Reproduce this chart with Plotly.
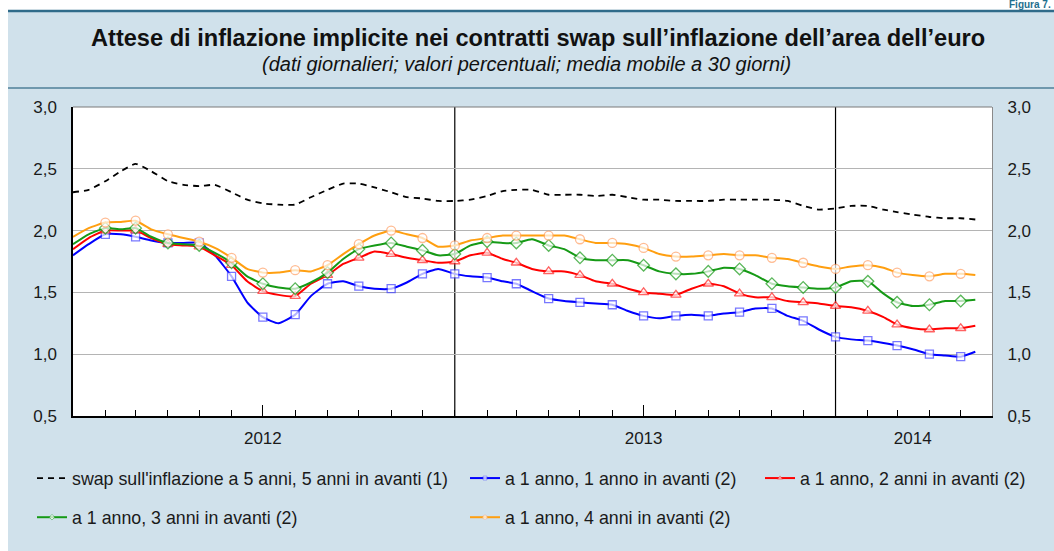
import plotly.graph_objects as go

# ---------------- data ----------------
dates = [
    "2012-01-01", "2012-01-16", "2012-02-01", "2012-02-16", "2012-03-01", "2012-03-16",
    "2012-04-01", "2012-04-16", "2012-05-01", "2012-05-16", "2012-06-01", "2012-06-16",
    "2012-07-01", "2012-07-16", "2012-08-01", "2012-08-16", "2012-09-01", "2012-09-16",
    "2012-10-01", "2012-10-16", "2012-11-01", "2012-11-16", "2012-12-01", "2012-12-16",
    "2013-01-01", "2013-01-16", "2013-02-01", "2013-02-16", "2013-03-01", "2013-03-16",
    "2013-04-01", "2013-04-16", "2013-05-01", "2013-05-16", "2013-06-01", "2013-06-16",
    "2013-07-01", "2013-07-16", "2013-08-01", "2013-08-16", "2013-09-01", "2013-09-16",
    "2013-10-01", "2013-10-16", "2013-11-01", "2013-11-16", "2013-12-01", "2013-12-16",
    "2014-01-01", "2014-01-16", "2014-02-01", "2014-02-16", "2014-03-01", "2014-03-16",
    "2014-04-01", "2014-04-16", "2014-05-01", "2014-05-15",
]

swap_5y5y = [
    2.31, 2.33, 2.40, 2.48, 2.54, 2.48, 2.40, 2.37, 2.36, 2.37, 2.31, 2.25,
    2.22, 2.21, 2.21, 2.27, 2.33, 2.38, 2.38, 2.35, 2.31, 2.27, 2.26, 2.24,
    2.24, 2.25, 2.28, 2.32, 2.33, 2.33, 2.29, 2.29, 2.29, 2.28, 2.29, 2.27,
    2.25, 2.25, 2.24, 2.24, 2.24, 2.25, 2.25, 2.25, 2.25, 2.24, 2.20, 2.17,
    2.18, 2.20, 2.20, 2.17, 2.15, 2.13, 2.11, 2.10, 2.10, 2.09,
]

fwd_1y1y = [
    1.80, 1.89, 1.97, 1.97, 1.95, 1.92, 1.90, 1.90, 1.90, 1.80, 1.63, 1.42,
    1.30, 1.25, 1.32, 1.47, 1.57, 1.59, 1.55, 1.53, 1.53, 1.58, 1.65, 1.69,
    1.65, 1.63, 1.62, 1.59, 1.57, 1.51, 1.45, 1.43, 1.42, 1.41, 1.40, 1.35,
    1.31, 1.29, 1.31, 1.32, 1.31, 1.33, 1.34, 1.37, 1.37, 1.31, 1.27, 1.20,
    1.14, 1.12, 1.11, 1.09, 1.07, 1.04, 1.00, 0.99, 0.98, 1.02,
]

fwd_1y2y = [
    1.85, 1.94, 2.00, 2.00, 2.00, 1.94, 1.89, 1.88, 1.87, 1.80, 1.72, 1.59,
    1.51, 1.48, 1.47, 1.57, 1.64, 1.73, 1.78, 1.83, 1.81, 1.78, 1.76, 1.74,
    1.75, 1.80, 1.82, 1.77, 1.74, 1.69, 1.67, 1.67, 1.64, 1.59, 1.57, 1.53,
    1.50, 1.49, 1.48, 1.53, 1.57, 1.55, 1.49, 1.46, 1.46, 1.43, 1.42, 1.41,
    1.39, 1.38, 1.35, 1.30, 1.24, 1.21, 1.20, 1.21, 1.21, 1.23,
]

fwd_1y3y = [
    1.89, 1.97, 2.02, 2.01, 2.02, 1.95, 1.90, 1.89, 1.88, 1.82, 1.74, 1.63,
    1.57, 1.54, 1.53, 1.58, 1.66, 1.77, 1.85, 1.88, 1.90, 1.87, 1.84, 1.80,
    1.81, 1.88, 1.91, 1.90, 1.90, 1.93, 1.88, 1.85, 1.78, 1.76, 1.76, 1.76,
    1.72, 1.67, 1.65, 1.65, 1.67, 1.70, 1.69, 1.64, 1.57, 1.55, 1.54, 1.53,
    1.54, 1.59, 1.59, 1.49, 1.42, 1.39, 1.40, 1.43, 1.43, 1.44,
]

fwd_1y4y = [
    1.95, 2.02, 2.065, 2.07, 2.08, 2.01, 1.97, 1.94, 1.91, 1.86, 1.78, 1.69,
    1.66, 1.66, 1.68, 1.67, 1.72, 1.81, 1.89, 1.96, 2.00, 1.97, 1.94, 1.87,
    1.88, 1.92, 1.94, 1.96, 1.96, 1.96, 1.96, 1.96, 1.93, 1.90, 1.90, 1.89,
    1.86, 1.81, 1.79, 1.79, 1.80, 1.81, 1.80, 1.80, 1.78, 1.77, 1.74, 1.71,
    1.69, 1.71, 1.72, 1.70, 1.66, 1.64, 1.63, 1.65, 1.65, 1.64,
]

series_names = [
    "swap sull'inflazione a 5 anni, 5 anni in avanti (1)",
    "a 1 anno, 1 anno in avanti (2)",
    "a 1 anno, 2 anni in avanti (2)",
    "a 1 anno, 3 anni in avanti (2)",
    "a 1 anno, 4 anni in avanti (2)",
]

year_labels = ["2012", "2013", "2014"]
year_label_pos = ["2012-07-01", "2013-07-01", "2014-03-16"]
year_starts = ["2013-01-01", "2014-01-01"]
midyear_ticks = ["2012-07-01", "2013-07-01"]
y_ticks = [0.5, 1.0, 1.5, 2.0, 2.5, 3.0]

title = "Attese di inflazione implicite nei contratti swap sull’inflazione dell’area dell’euro"
subtitle = "(dati giornalieri; valori percentuali; media mobile a 30 giorni)"
figure_tag = "Figura 7."

# ---------------- layout geometry / style ----------------
FIG_W, FIG_H = 1054, 551
L, R, T, B = 73, 992, 107, 416
PW, PH = R - L, B - T


def fx(px):
    return (px - L) / PW


def fy(py):
    return (B - py) / PH


FONT = "Liberation Sans, Arial, Helvetica, sans-serif"
TXT = "#1a1a1a"
PANEL = "#D0E1EB"
TEAL = "#2F6B8A"

is_marker = [d.endswith("-01") and i > 0 for i, d in enumerate(dates)]


def marker_style(symbol, edge, size):
    return dict(
        symbol=symbol,
        color="white",
        size=[size if m else 0 for m in is_marker],
        line=dict(color=edge, width=[1.3 if m else 0 for m in is_marker]),
    )


fig = go.Figure()

fig.add_trace(go.Scatter(
    x=dates, y=swap_5y5y, mode="lines", name=series_names[0],
    line=dict(color="black", width=1.8, dash="6px,5px", shape="spline", smoothing=0.5),
    legend="legend", legendgroup="g1",
))
fig.add_trace(go.Scatter(
    x=dates, y=fwd_1y1y, mode="lines+markers", name=series_names[1],
    line=dict(color="#0000FF", width=2, shape="spline", smoothing=0.5),
    marker=marker_style("square", "#4040FF", 8),
    legend="legend2", legendgroup="g2",
))
fig.add_trace(go.Scatter(
    x=dates, y=fwd_1y2y, mode="lines+markers", name=series_names[2],
    line=dict(color="#FF0000", width=2, shape="spline", smoothing=0.5),
    marker=marker_style("triangle-up", "#FF2020", 9),
    legend="legend3", legendgroup="g3",
))
fig.add_trace(go.Scatter(
    x=dates, y=fwd_1y3y, mode="lines+markers", name=series_names[3],
    line=dict(color="#169A16", width=2, shape="spline", smoothing=0.5),
    marker=marker_style("diamond", "#169A16", 9),
    legend="legend", legendgroup="g4",
))
fig.add_trace(go.Scatter(
    x=dates, y=fwd_1y4y, mode="lines+markers", name=series_names[4],
    line=dict(color="#FF9F10", width=2, shape="spline", smoothing=0.5),
    marker=marker_style("circle", "#FFA066", 9),
    legend="legend2", legendgroup="g5",
))

# helper traces to activate the overlay axes
fig.add_trace(go.Scatter(x=[], y=[], xaxis="x2", showlegend=False, hoverinfo="skip"))
fig.add_trace(go.Scatter(x=[], y=[], xaxis="x3", showlegend=False, hoverinfo="skip"))
fig.add_trace(go.Scatter(x=[], y=[], yaxis="y2", showlegend=False, hoverinfo="skip"))

X_RANGE = ["2012-01-01", "2014-05-31"]

legend_common = dict(
    xanchor="left", yanchor="top", orientation="v",
    traceorder="grouped", tracegroupgap=13,
    bgcolor="rgba(0,0,0,0)", borderwidth=0,
    font=dict(family=FONT, size=17.8, color=TXT),
    itemwidth=30,
)

fig.update_layout(
    width=FIG_W, height=FIG_H, autosize=False,
    margin=dict(l=L, r=FIG_W - R, t=T, b=FIG_H - B, pad=0, autoexpand=False),
    paper_bgcolor=PANEL, plot_bgcolor="white",
    separators=",.",
    font=dict(family=FONT, size=16, color=TXT),
    showlegend=True,
    xaxis=dict(
        type="date", range=X_RANGE, tickmode="linear", tick0="2012-01-01", dtick="M1",
        ticks="inside", ticklen=6, tickwidth=1, tickcolor="black",
        showticklabels=False, showgrid=False, zeroline=False,
        showline=True, linecolor="black", linewidth=1.5,
    ),
    xaxis2=dict(
        type="date", overlaying="x", matches="x", anchor="y",
        tickmode="array", tickvals=midyear_ticks,
        ticks="inside", ticklen=11, tickwidth=1, tickcolor="black",
        showticklabels=False, showgrid=False, zeroline=False, showline=False,
    ),
    xaxis3=dict(
        type="date", overlaying="x", matches="x", anchor="y",
        tickmode="array", tickvals=year_label_pos, ticktext=year_labels,
        ticks="", showgrid=False, zeroline=False, showline=False,
        ticklabelstandoff=10, tickfont=dict(family=FONT, size=17, color=TXT),
    ),
    yaxis=dict(
        range=[0.5, 3.0], tickmode="array", tickvals=y_ticks, tickformat=".1f",
        showgrid=True, gridcolor="#B4B4B4", gridwidth=1, zeroline=False,
        showline=True, linecolor="black", linewidth=1.5, ticks="",
        ticklabelstandoff=11, tickfont=dict(family=FONT, size=17, color=TXT),
    ),
    yaxis2=dict(
        range=[0.5, 3.0], overlaying="y", matches="y", side="right", anchor="x",
        tickmode="array", tickvals=y_ticks, tickformat=".1f",
        showgrid=False, zeroline=False, showline=True, linecolor="#8A8A8A", linewidth=1,
        ticks="", ticklabelstandoff=11, tickfont=dict(family=FONT, size=17, color=TXT),
    ),
    legend=dict(x=fx(32), y=fy(460), **legend_common),
    legend2=dict(x=fx(465), y=fy(460), **legend_common),
    legend3=dict(x=fx(760), y=fy(460), **legend_common),
)

# year-boundary vertical lines
for ys in year_starts:
    fig.add_shape(type="line", xref="x", yref="paper", x0=ys, x1=ys, y0=0, y1=1,
                  line=dict(color="black", width=1.2), layer="between")

# top border of plot area
fig.add_shape(type="line", xref="paper", yref="paper", x0=0, x1=1, y0=1, y1=1,
              line=dict(color="#7A7A7A", width=1.2), layer="above")

# panel decorations (white frame above / left of the panel, teal rules)
fig.add_shape(type="rect", xref="paper", yref="paper",
              x0=fx(-2), x1=fx(8), y0=fy(FIG_H + 2), y1=fy(-2),
              fillcolor="white", line=dict(width=0), layer="below")
fig.add_shape(type="rect", xref="paper", yref="paper",
              x0=fx(-2), x1=fx(FIG_W + 2), y0=fy(10), y1=fy(-2),
              fillcolor="white", line=dict(width=0), layer="below")
fig.add_shape(type="line", xref="paper", yref="paper",
              x0=fx(8), x1=fx(FIG_W + 2), y0=fy(11), y1=fy(11),
              line=dict(color=TEAL, width=2.5), layer="below")
fig.add_shape(type="line", xref="paper", yref="paper",
              x0=fx(8), x1=fx(FIG_W + 2), y0=fy(88), y1=fy(88),
              line=dict(color="#4F7F99", width=1.5), layer="below")

fig.add_annotation(text=f"<b>{title}</b>", xref="paper", yref="paper",
                   x=fx(538), y=fy(38), xanchor="center", yanchor="middle",
                   showarrow=False, font=dict(family=FONT, size=23.6, color="#111111"))
fig.add_annotation(text=f"<i>{subtitle}</i>", xref="paper", yref="paper",
                   x=fx(526), y=fy(64), xanchor="center", yanchor="middle",
                   showarrow=False, font=dict(family=FONT, size=20, color="#111111"))
fig.add_annotation(text=f"<b>{figure_tag}</b>", xref="paper", yref="paper",
                   x=fx(1052), y=fy(11), xanchor="right", yanchor="bottom",
                   borderpad=0, showarrow=False,
                   font=dict(family=FONT, size=10, color="#1E6E8E"))

# the page itself: let the figure start at the window's top-left corner
fig.write_html("out.html", config={"displayModeBar": False},
               post_script="document.body.style.margin='0';")
